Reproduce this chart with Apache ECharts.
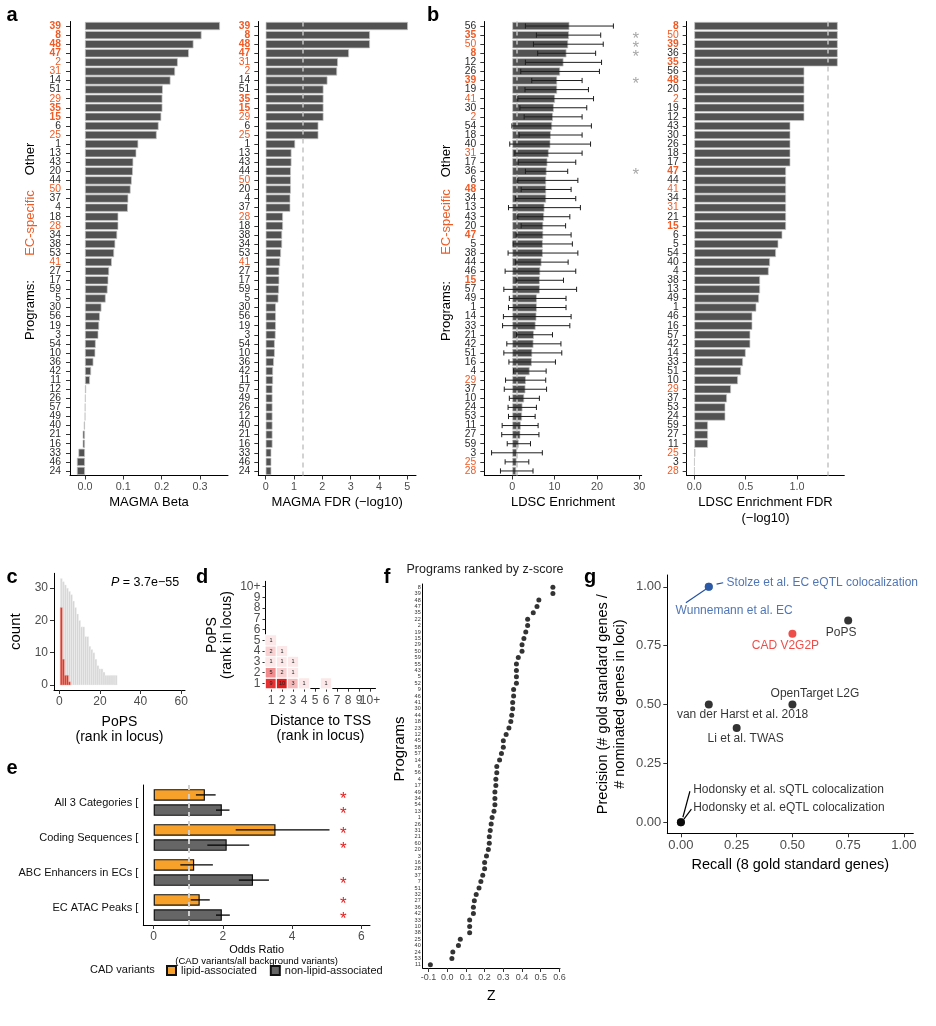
<!DOCTYPE html>
<html><head><meta charset="utf-8">
<script src="https://cdn.jsdelivr.net/npm/echarts@6/dist/echarts.min.js"></script>
<style>html,body{margin:0;padding:0;background:#fff}#c{width:936px;height:1026px}</style>
</head><body><div id="c"></div>
<script>
// ---------------- DATA ----------------
const ecSpecific = ['39','8','48','47','2','31','29','35','15','25','50','28','41'];
const ecBold = ['39','8','48','47','35','15'];

const magmaBetaPrograms = ['39','8','48','47','2','31','14','51','29','35','15','6','25','1','13','43','20','44','50','37','4','18','28','34','38','53','41','27','17','59','5','30','56','19','3','54','10','36','42','11','12','26','57','49','40','21','16','33','46','24'];
const magmaBeta = [0.352,0.304,0.283,0.271,0.242,0.235,0.223,0.203,0.202,0.202,0.199,0.192,0.187,0.139,0.134,0.126,0.125,0.122,0.119,0.113,0.112,0.087,0.087,0.084,0.079,0.076,0.070,0.063,0.061,0.059,0.054,0.043,0.039,0.037,0.035,0.028,0.027,0.022,0.016,0.013,0.003,0.002,0.001,0.0005,-0.003,-0.006,-0.006,-0.017,-0.021,-0.021];

const magmaFdrPrograms = ['39','8','48','47','31','2','14','51','35','15','29','6','25','1','13','43','44','50','20','4','37','28','18','38','34','53','41','27','17','59','5','30','56','19','3','54','10','36','42','11','57','49','26','12','40','21','16','33','46','24'];
const magmaFdr = [5.02,3.68,3.68,2.94,2.55,2.52,2.18,2.04,2.04,2.04,2.04,1.86,1.86,1.04,0.91,0.91,0.89,0.89,0.89,0.87,0.87,0.61,0.61,0.58,0.58,0.54,0.51,0.48,0.48,0.47,0.45,0.36,0.36,0.36,0.35,0.32,0.32,0.29,0.26,0.26,0.24,0.24,0.24,0.24,0.24,0.24,0.24,0.20,0.20,0.20];

const ldscPrograms = ['56','35','50','8','12','26','39','19','41','30','2','54','18','40','31','17','36','6','48','34','13','43','20','47','5','38','44','46','15','57','49','1','14','33','21','42','51','16','4','29','37','10','24','53','11','27','59','3','25','28'];
const ldscEnrich = [13.5,13.4,13.2,12.8,12.1,11.3,10.6,10.6,10.1,9.8,9.6,9.4,9.1,9.0,8.6,8.3,8.1,8.0,8.0,8.0,7.6,7.5,7.3,7.3,7.2,7.2,6.9,6.6,6.5,6.5,5.8,5.8,5.7,5.5,5.1,5.0,4.7,4.6,4.1,3.2,3.1,2.8,2.4,2.3,2.0,1.9,1.5,1.1,1.0,0.9];
const ldscLow = [3.1,5.7,5.0,6.0,3.1,2.0,4.6,3.0,1.3,1.8,2.8,-0.1,1.6,-0.6,0.6,1.4,3.1,1.3,2.1,0.8,-0.9,1.3,2.1,0.9,0.2,-1.0,0.8,-1.7,0.9,-2.0,-0.7,-0.9,-2.1,-2.3,1.0,-1.3,-2.0,-0.8,0.3,-1.6,-1.9,-0.7,-1.0,-0.9,-2.4,-2.5,-1.2,-4.9,-1.7,-2.8];
const ldscHigh = [23.9,20.9,21.5,19.7,21.1,20.6,16.5,18.0,19.2,17.6,16.5,18.7,16.5,18.5,16.5,15.0,13.1,15.5,13.9,15.0,16.1,13.6,12.6,13.9,14.2,15.5,13.2,15.0,12.1,15.2,12.7,12.7,13.9,13.6,9.5,11.5,11.7,10.2,8.0,7.9,8.1,6.4,5.7,5.4,6.1,6.3,4.3,7.1,3.9,4.9];
const ldscStarred = ['35','50','8','39','36'];

const ldscFdrPrograms = ['8','50','39','36','35','56','48','20','2','19','12','43','30','26','18','17','47','44','41','34','31','21','15','6','5','54','40','4','38','13','49','1','46','16','57','42','14','33','51','10','29','37','53','24','59','27','11','25','3','28'];
const ldscFdr = [1.396,1.396,1.396,1.396,1.396,1.071,1.071,1.071,1.071,1.071,1.071,0.935,0.935,0.935,0.935,0.935,0.893,0.893,0.893,0.893,0.893,0.893,0.893,0.857,0.818,0.795,0.737,0.724,0.640,0.640,0.630,0.604,0.565,0.565,0.545,0.545,0.500,0.474,0.455,0.425,0.357,0.318,0.302,0.302,0.133,0.133,0.133,0.010,0.003,0.003];

const popsRanks = [1,2,3,4,5,6,7,8,9,10,11,12,13,14,15,16,17,18,19,20,21,22,23,24,25,26,27,28];
const popsAllCounts = [33,32,31,30,29,28,26,24,22,20,18,18,15,15,12,11,10,8,6,5,5,4,3,3,3,3,3,3];
const popsGoldRanks = [1,2,3,4,5];
const popsGoldCounts = [24,8,3,3,1];
const popsP = '3.7e\u221255';

const rankLabels = ['1','2','3','4','5','6','7','8','9','10+'];
const heatTss = [1,2,3,4,6,1,2,3,1,2,3,1,2,1];
const heatPops = [1,1,1,1,1,2,2,2,3,3,3,4,4,5];
const heatCount = [9,10,3,1,1,5,2,1,1,1,1,2,1,1];

const orCategories = ['All 3 Categories','Coding Sequences','ABC Enhancers in ECs','EC ATAC Peaks'];
const orLipid = [1.48,3.52,1.17,1.33];
const orLipidLow = [1.22,2.37,0.77,1.07];
const orLipidHigh = [1.79,5.08,1.71,1.62];
const orNonLipid = [1.97,2.11,2.87,1.97];
const orNonLipidLow = [1.80,1.55,2.46,1.80];
const orNonLipidHigh = [2.19,2.76,3.33,2.20];
const orLipidSig = [1,1,0,1];
const orNonLipidSig = [1,1,1,1];

const zPrograms = ['8','39','48','47','35','22','2','19','15','29','50','59','55','43','5','52','9','46','41','30','44','18','23','12','45','58','57','14','6','56','4','17','49','34','54','13','1','26','31','21','60','20','3','16','28','37','7','51','32','27','36','42','33','10','38','25','40','24','53','11'];
const zScores = [0.565,0.565,0.49,0.48,0.46,0.43,0.43,0.42,0.41,0.40,0.40,0.38,0.37,0.37,0.37,0.37,0.355,0.355,0.35,0.35,0.345,0.34,0.33,0.315,0.30,0.30,0.29,0.28,0.265,0.265,0.26,0.26,0.255,0.255,0.255,0.25,0.24,0.235,0.23,0.225,0.225,0.22,0.21,0.20,0.20,0.19,0.18,0.17,0.155,0.145,0.14,0.14,0.12,0.12,0.12,0.07,0.06,0.03,0.025,-0.09];

const methods = ['Stolze et al. EC eQTL colocalization','Wunnemann et al. EC','CAD V2G2P','PoPS','OpenTarget L2G','van der Harst et al. 2018','Li et al. TWAS','Hodonsky et al. sQTL colocalization','Hodonsky et al. eQTL colocalization'];
const recall = [0.125,0.125,0.5,0.75,0.5,0.125,0.25,0.0,0.0];
const precision = [1.0,1.0,0.8,0.857,0.5,0.5,0.4,0.0,0.0];

// ---------------- STYLE ----------------
const FONT = '"Liberation Sans", Arial, Helvetica, sans-serif';
const ORANGE = '#f15a24';
const BAR = '#525252';
const TXT = '#2b2b2b';
const TICK = '#4d4d4d';
const BLUE = '#2352a3';
const RED = '#e8221c';

const methodStyle = {
  'Stolze et al. EC eQTL colocalization': {color: BLUE, align:'left', off:[17.8,-4], lead:[[7.8,-2.7],[14.4,-4]]},
  'Wunnemann et al. EC': {color: BLUE, align:'center', off:[25.4,24], lead:[[-3,2.5],[-22.9,16]]},
  'CAD V2G2P': {color: RED, align:'center', off:[-7,12]},
  'PoPS': {color:'#000', align:'center', off:[-7,12]},
  'OpenTarget L2G': {color:'#000', align:'center', off:[22.5,-10.5]},
  'van der Harst et al. 2018': {color:'#000', align:'center', off:[33.8,10.5]},
  'Li et al. TWAS': {color:'#000', align:'center', off:[9,11]},
  'Hodonsky et al. sQTL colocalization': {color:'#000', align:'left', off:[12.3,-33], lead:[[2,-5],[9,-31]]},
  'Hodonsky et al. eQTL colocalization': {color:'#000', align:'left', off:[12.3,-14.6], lead:[[3,-3],[10.5,-13]]}
};

function progLabel(p) {
  return { value: p, textStyle: { color: ecSpecific.includes(p) ? ORANGE : TXT, fontWeight: ecBold.includes(p) ? 'bold' : 'normal' } };
}
function catY(gi, list, margin) {
  return { type:'category', gridIndex:gi, data:list.map(progLabel), inverse:true,
    axisLine:{show:true, onZero:false, lineStyle:{color:'#000', width:1}},
    axisTick:{show:true, length:4, alignWithLabel:true, lineStyle:{color:'#333'}},
    axisLabel:{interval:0, fontSize:10.3, fontFamily:FONT, margin:margin, color:TXT} };
}
function valAxis(gi, min, max, ticks, fmt, name, nameGap, extra) {
  const a = { type:'value', gridIndex:gi, min:min, max:max, splitLine:{show:false},
    axisLine:{show:true, onZero:false, lineStyle:{color:'#000', width:1}},
    axisTick:{show:true, length:4, customValues:ticks, lineStyle:{color:'#333'}},
    axisLabel:{customValues:ticks, formatter:fmt, fontSize:10.8, fontFamily:FONT, color:TICK, margin:6},
    name:name, nameLocation:'middle', nameGap:nameGap,
    nameTextStyle:{fontSize:13, fontFamily:FONT, color:'#000', lineHeight:16} };
  if (extra) {
    if (extra.labelSize) a.axisLabel.fontSize = extra.labelSize;
    if (extra.nameSize) a.nameTextStyle.fontSize = extra.nameSize;
    if (extra.lineHeight) a.nameTextStyle.lineHeight = extra.lineHeight;
    if (extra.rich) a.nameTextStyle.rich = extra.rich;
    if (extra.margin != null) a.axisLabel.margin = extra.margin;
  }
  return a;
}
function bars(xi, data, ref) {
  const s = { type:'bar', xAxisIndex:xi, yAxisIndex:xi, data:data, barCategoryGap:'10%', silent:true,
    itemStyle:{color:BAR, borderColor:'#c6c6c6', borderWidth:0.7} };
  if (ref != null) s.markLine = { silent:true, symbol:'none', label:{show:false},
    lineStyle:{color:'#c4c4c4', type:[5,4], width:1.5}, data:[{xAxis:ref}] };
  return s;
}
function histRender(fill, stroke) {
  return function(params, api) {
    const x = api.value(0), y = api.value(1);
    const p0 = api.coord([x - 0.5, 0]), p1 = api.coord([x + 0.5, y]);
    return { type:'rect', shape:{x:p0[0], y:p1[1], width:p1[0]-p0[0], height:p0[1]-p1[1]},
      style:{fill:fill, stroke:stroke, lineWidth:0.4} };
  };
}
function rotText(x, y, text, color, size) {
  return { type:'text', x:x, y:y, rotation:Math.PI/2,
    style:{text:text, fill:color, font:size+'px '+FONT, align:'center', verticalAlign:'middle'} };
}
function letter(x, y, t) {
  return { type:'text', x:x, y:y, style:{text:t, fill:'#000', font:'bold 20px '+FONT, align:'center', verticalAlign:'middle'} };
}

const chart = echarts.init(document.getElementById('c'), null, {renderer:'canvas'});

const option = {
  animation:false,
  textStyle:{fontFamily:FONT},
  grid:[
    {left:70, top:21.5, width:158, height:454},
    {left:258.3, top:21.5, width:157.7, height:454},
    {left:484.3, top:21.5, width:157.4, height:454},
    {left:686.7, top:21.5, width:157.6, height:454},
    {left:54, top:573.3, width:131, height:116.7},
    {left:265.5, top:581.3, width:110, height:107.4},
    {left:143.3, top:785, width:226.7, height:140},
    {left:422.7, top:584, width:137.3, height:384},
    {left:667.3, top:575, width:246, height:258.3}
  ],
  xAxis:[
    valAxis(0, -0.039, 0.373, [0,0.1,0.2,0.3], v=>v.toFixed(1), 'MAGMA Beta', 19),
    valAxis(1, -0.261, 5.305, [0,1,2,3,4,5], v=>String(v), 'MAGMA FDR (\u2212log10)', 19),
    valAxis(2, -6.62, 30.59, [0,10,20,30], v=>String(v), 'LDSC Enrichment', 19),
    valAxis(3, -0.074, 1.46, [0,0.5,1.0], v=>v.toFixed(1), 'LDSC Enrichment FDR\n(\u2212log10)', 19),
    valAxis(4, -2.6, 61.9, [0,20,40,60], v=>String(v), 'PoPS\n(rank in locus)', 25, {labelSize:12, nameSize:14, lineHeight:15}),
    { type:'category', gridIndex:5, data:rankLabels,
      axisLine:{show:true, onZero:false, lineStyle:{color:'#000'}},
      axisTick:{show:true, length:3, alignWithLabel:true, lineStyle:{color:'#333'}},
      axisLabel:{interval:0, fontSize:12, color:TICK, margin:6},
      name:'Distance to TSS\n(rank in locus)', nameLocation:'middle', nameGap:25,
      nameTextStyle:{fontSize:14, color:'#000', lineHeight:15} },
    valAxis(6, -0.3, 6.25, [0,2,4,6], v=>String(v), '{a|Odds Ratio}\n{b|(CAD variants/all background variants)}', 10,
      {labelSize:12, rich:{a:{fontSize:11, color:'#000', lineHeight:12, fontFamily:FONT}, b:{fontSize:9.5, color:'#000', lineHeight:11, fontFamily:FONT}}}),
    valAxis(7, -0.131, 0.603, [-0.1,0,0.1,0.2,0.3,0.4,0.5,0.6], v=>v.toFixed(1), 'Z', 20, {labelSize:9, nameSize:14, margin:5}),
    valAxis(8, -0.061, 1.042, [0,0.25,0.5,0.75,1], v=>v.toFixed(2), 'Recall (8 gold standard genes)', 24, {labelSize:13, nameSize:14.5})
  ],
  yAxis:[
    catY(0, magmaBetaPrograms, 9),
    catY(1, magmaFdrPrograms, 8),
    catY(2, ldscPrograms, 8),
    catY(3, ldscFdrPrograms, 8),
    valAxis(4, -1.55, 34.6, [0,10,20,30], v=>String(v), 'count', 30, {labelSize:12, nameSize:15}),
    { type:'category', gridIndex:5, data:rankLabels,
      axisLine:{show:true, onZero:false, lineStyle:{color:'#000'}},
      axisTick:{show:true, length:3, alignWithLabel:true, lineStyle:{color:'#333'}},
      axisLabel:{interval:0, fontSize:12, color:TICK, margin:5},
      name:'PoPS\n(rank in locus)', nameLocation:'middle', nameGap:31,
      nameTextStyle:{fontSize:14, color:'#000', lineHeight:15} },
    { type:'category', gridIndex:6, data:orCategories, inverse:true,
      axisLine:{show:true, onZero:false, lineStyle:{color:'#000'}}, axisTick:{show:false},
      axisLabel:{interval:0, fontSize:11, color:'#111', margin:5, formatter:v=>v+' ['} },
    { type:'category', gridIndex:7, data:zPrograms, inverse:true,
      axisLine:{show:true, onZero:false, lineStyle:{color:'#000'}}, axisTick:{show:false},
      axisLabel:{interval:0, fontSize:5.5, color:'#333', margin:2} },
    valAxis(8, -0.047, 1.05, [0,0.25,0.5,0.75,1], v=>v.toFixed(2), 'Precision (# gold standard genes /\n# nominated genes in loci)', 39, {labelSize:13, nameSize:14.5, lineHeight:17})
  ],
  visualMap:[{type:'continuous', show:false, seriesIndex:7, min:0, max:10, inRange:{color:['#ffffff','#e31a1c']}}],
  legend:{ left:166, top:965, padding:0, itemWidth:9, itemHeight:9, itemGap:13, icon:'rect',
    data:['lipid-associated','non-lipid-associated'], textStyle:{fontSize:11, color:'#111', fontFamily:FONT}, selectedMode:false },
  series:[
    bars(0, magmaBeta, null),
    bars(1, magmaFdr, 1.3),
    bars(2, ldscEnrich, 1),
    { type:'custom', xAxisIndex:2, yAxisIndex:2, silent:true, z:5,
      data: ldscPrograms.map((p,i)=>[i, ldscLow[i], ldscHigh[i]]),
      encode:{x:[1,2], y:0},
      renderItem:function(params, api){
        const i = api.value(0);
        const a = api.coord([api.value(1), i]), b = api.coord([api.value(2), i]);
        const h = 2.6, st = {stroke:'#1e1e1e', lineWidth:1};
        return {type:'group', children:[
          {type:'line', shape:{x1:a[0], y1:a[1], x2:b[0], y2:b[1]}, style:st},
          {type:'line', shape:{x1:a[0], y1:a[1]-h, x2:a[0], y2:a[1]+h}, style:st},
          {type:'line', shape:{x1:b[0], y1:b[1]-h, x2:b[0], y2:b[1]+h}, style:st}]};
      } },
    { type:'custom', xAxisIndex:2, yAxisIndex:2, silent:true, z:5,
      data: ldscStarred.map(p=>[ldscPrograms.indexOf(p)]),
      encode:{y:0},
      renderItem:function(params, api){
        const c = api.coord([29.2, api.value(0)]);
        return {type:'text', x:c[0], y:c[1]+4, style:{text:'*', fill:'#a8a8a8', font:'17px '+FONT, align:'center', verticalAlign:'middle'}};
      } },
    bars(3, ldscFdr, 1.3),
    { type:'custom', xAxisIndex:4, yAxisIndex:4, silent:true,
      data: popsRanks.map((r,i)=>[r, popsAllCounts[i]]), renderItem: histRender('#d6d6d6', '#f4f4f4') },
    { type:'heatmap', xAxisIndex:5, yAxisIndex:5, silent:true,
      data: heatCount.map((v,i)=>[heatTss[i]-1, heatPops[i]-1, v]),
      itemStyle:{borderColor:'#fff', borderWidth:1.2},
      label:{show:true, fontSize:5.5, color:'#222', formatter:p=>String(p.value[2])} },
    { type:'custom', xAxisIndex:4, yAxisIndex:4, silent:true, z:3,
      data: popsGoldRanks.map((r,i)=>[r, popsGoldCounts[i]]), renderItem: histRender('#e0301e', '#f5b5ad') },
    { type:'bar', name:'lipid-associated', xAxisIndex:6, yAxisIndex:6, data:orLipid, barWidth:11.5, barGap:'32%', silent:true,
      itemStyle:{color:'#f7a02a', borderColor:'#111', borderWidth:1.2} },
    { type:'bar', name:'non-lipid-associated', xAxisIndex:6, yAxisIndex:6, data:orNonLipid, barWidth:11.5, barGap:'32%', silent:true,
      itemStyle:{color:'#666666', borderColor:'#111', borderWidth:1.2},
      markLine:{silent:true, symbol:'none', label:{show:false}, lineStyle:{color:'#cfcfcf', type:[5,4], width:2}, data:[{xAxis:1}]} },
    { type:'custom', xAxisIndex:6, yAxisIndex:6, silent:true, z:6,
      data: orCategories.map((c,i)=>[i, orLipidLow[i], orLipidHigh[i], orNonLipidLow[i], orNonLipidHigh[i], orLipidSig[i], orNonLipidSig[i]]),
      encode:{x:[1,2,3,4], y:0},
      renderItem:function(params, api){
        const i = api.value(0), kids = [], offs = [-7.6, 7.6];
        for (let k=0;k<2;k++){
          const lo = api.coord([api.value(1+2*k), i]), hi = api.coord([api.value(2+2*k), i]);
          const y = lo[1] + offs[k];
          kids.push({type:'line', shape:{x1:lo[0], y1:y, x2:hi[0], y2:y}, style:{stroke:'#000', lineWidth:1.3}});
          if (api.value(5+k)) {
            const s = api.coord([5.48, i]);
            kids.push({type:'text', x:s[0], y:y+4, style:{text:'*', fill:'#ee1c1c', font:'17px '+FONT, align:'center', verticalAlign:'middle'}});
          }
        }
        return {type:'group', children:kids};
      } },
    { type:'scatter', xAxisIndex:7, yAxisIndex:7, silent:true, symbolSize:5, itemStyle:{color:'#000'},
      data: zScores.map((z,i)=>[z, i]) },
    { type:'scatter', xAxisIndex:8, yAxisIndex:8, silent:true, symbolSize:8,
      data: methods.map((m,i)=>{
        const st = methodStyle[m];
        return { name:m, value:[recall[i], precision[i]], itemStyle:{color:st.color},
          label:{show:true, position:'inside', formatter:m, color:st.color, fontSize:12, fontFamily:FONT,
            align:st.align, verticalAlign:'middle', offset:st.off} };
      }) },
    { type:'custom', xAxisIndex:8, yAxisIndex:8, silent:true,
      data: methods.map((m,i)=>[recall[i], precision[i], i]),
      renderItem:function(params, api){
        const m = methods[api.value(2)], st = methodStyle[m];
        if (!st.lead) return null;
        const c = api.coord([api.value(0), api.value(1)]);
        return {type:'line', shape:{x1:c[0]+st.lead[0][0], y1:c[1]+st.lead[0][1], x2:c[0]+st.lead[1][0], y2:c[1]+st.lead[1][1]},
          style:{stroke:st.color, lineWidth:1.2}};
      } }
  ],
  graphic:[
    letter(12, 15, 'a'), letter(433, 15, 'b'), letter(12, 577, 'c'), letter(202, 577, 'd'),
    letter(12, 768, 'e'), letter(387, 577, 'f'), letter(590, 577, 'g'),
    rotText(30, 159, 'Other', '#000', 13), rotText(30, 223, 'EC-specific', ORANGE, 13), rotText(30, 310, 'Programs:', '#000', 13),
    rotText(446.7, 161, 'Other', '#000', 13), rotText(446.7, 222, 'EC-specific', ORANGE, 13), rotText(446.7, 311, 'Programs:', '#000', 13),
    { type:'text', x:111, y:583, style:{text:'{i|P} = '+popsP, rich:{i:{fontStyle:'italic', fontSize:12.5, fontFamily:FONT}}, fill:'#000', font:'12.5px '+FONT, verticalAlign:'middle'} },
    { type:'text', x:90, y:970, style:{text:'CAD variants', fill:'#111', font:'11px '+FONT, verticalAlign:'middle'} },
    { type:'text', x:485, y:570, style:{text:'Programs ranked by z-score', fill:'#222', font:'12.5px '+FONT, align:'center', verticalAlign:'middle'} },
    rotText(400, 749, 'Programs', '#000', 15)
  ]
};
chart.setOption(option);
</script></body></html>
